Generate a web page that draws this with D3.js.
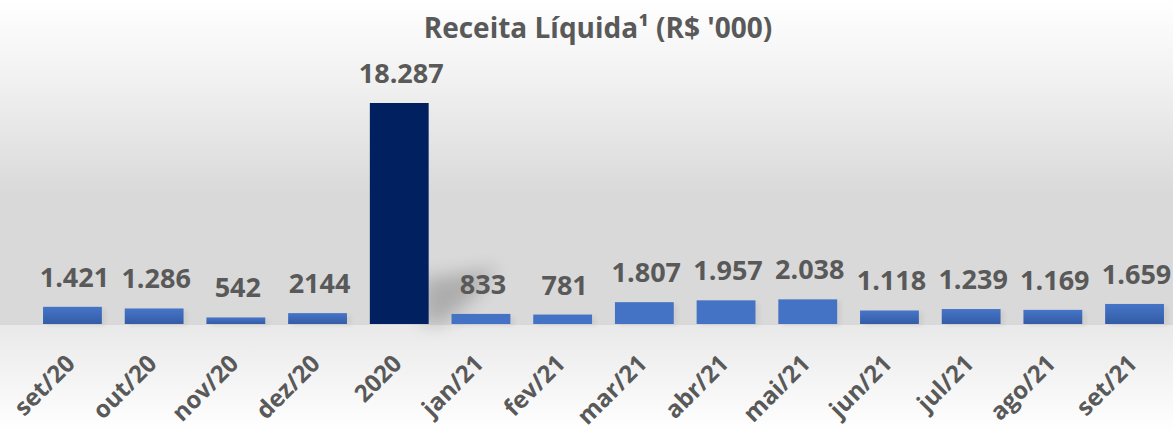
<!DOCTYPE html>
<html>
<head>
<meta charset="utf-8">
<script src="https://cdn.jsdelivr.net/npm/d3@7"></script>
<style>
  body { margin: 0; background: #fff; }
  svg { display: block; font-family: "Open Sans", sans-serif; }
</style>
</head>
<body>
<svg id="chart"></svg>
<script>
const months = ["set/20", "out/20", "nov/20", "dez/20", "2020", "jan/21", "fev/21", "mar/21", "abr/21", "mai/21", "jun/21", "jul/21", "ago/21", "set/21"];
// bar heights as drawn (the dez/20 bar is drawn much shorter than its "2144" label)
const revenue = [1421, 1286, 542, 900, 18287, 833, 781, 1807, 1957, 2038, 1118, 1239, 1169, 1659];
const valueLabels = ["1.421", "1.286", "542", "2144", "18.287", "833", "781", "1.807", "1.957", "2.038", "1.118", "1.239", "1.169", "1.659"];

// bars drawn with the shaded fill in the original
const shadedBars = ["set/20", "out/20", "nov/20", "dez/20", "jun/21", "jul/21", "ago/21", "set/21"];

const width = 1173, height = 432;
const baseline = 324;
const textColor = "#595959";

const svg = d3.select("#chart").attr("width", width).attr("height", height);
const defs = svg.append("defs");

const bgTop = defs.append("linearGradient").attr("id", "bgTop").attr("x1", 0).attr("y1", 0).attr("x2", 0).attr("y2", 1);
bgTop.append("stop").attr("offset", "0").attr("stop-color", "#ffffff");
bgTop.append("stop").attr("offset", "0.25").attr("stop-color", "#f1f1f1");
bgTop.append("stop").attr("offset", "0.6").attr("stop-color", "#d9d9d9");
bgTop.append("stop").attr("offset", "1").attr("stop-color", "#d9d9d9");

const bgBottom = defs.append("linearGradient").attr("id", "bgBottom").attr("x1", 0).attr("y1", 0).attr("x2", 0).attr("y2", 1);
bgBottom.append("stop").attr("offset", "0").attr("stop-color", "#e9e9e9");
bgBottom.append("stop").attr("offset", "1").attr("stop-color", "#ffffff");

const barGrad = defs.append("linearGradient").attr("id", "barGrad").attr("x1", 0).attr("y1", 0).attr("x2", 0).attr("y2", 1);
barGrad.append("stop").attr("offset", "0").attr("stop-color", "#4675c8");
barGrad.append("stop").attr("offset", "1").attr("stop-color", "#345ca6");

const blur = defs.append("filter").attr("id", "blur").attr("x", "-50%").attr("y", "-50%").attr("width", "200%").attr("height", "200%");
blur.append("feGaussianBlur").attr("stdDeviation", 9);

const soft = defs.append("filter").attr("id", "soft").attr("x", "-50%").attr("y", "-50%").attr("width", "200%").attr("height", "200%");
soft.append("feGaussianBlur").attr("stdDeviation", 2);

svg.append("rect").attr("width", width).attr("height", baseline + 1).attr("fill", "url(#bgTop)");
svg.append("rect").attr("y", baseline + 1).attr("width", width).attr("height", height - baseline - 1).attr("fill", "url(#bgBottom)");

const x = d3.scaleBand().domain(months).range([31.6, 1175.4]).paddingInner(0.28).paddingOuter(0.14);
const y = d3.scaleLinear().domain([0, d3.max(revenue)]).range([baseline, 103]);

const data = months.map((m, i) => ({ month: m, value: revenue[i], label: valueLabels[i] }));

// faint shadows
const shadows = svg.append("g");
shadows.selectAll("rect")
  .data(data.filter(d => d.month !== "2020"))
  .join("rect")
  .attr("x", d => x(d.month) + 4)
  .attr("y", d => y(d.value) + 2)
  .attr("width", x.bandwidth())
  .attr("height", d => baseline - y(d.value))
  .attr("fill", "#000")
  .attr("opacity", 0.05)
  .attr("filter", "url(#soft)");

// cast shadow of the 2020 bar
const big = data.find(d => d.month === "2020");
const xr = x(big.month) + x.bandwidth();
shadows.append("path")
  .attr("d", d3.line()([[xr - 6, baseline], [xr - 6, baseline - 45], [xr + 70, baseline - 56], [xr + 40, baseline - 22], [xr + 12, baseline]]))
  .attr("fill", "#000")
  .attr("opacity", 0.2)
  .attr("filter", "url(#blur)");

svg.append("g")
  .selectAll("rect")
  .data(data)
  .join("rect")
  .attr("x", d => x(d.month))
  .attr("y", d => y(d.value))
  .attr("width", x.bandwidth())
  .attr("height", d => baseline - y(d.value))
  .attr("fill", d => d.month === "2020" ? "#002060" : shadedBars.includes(d.month) ? "url(#barGrad)" : "#4472c4");

svg.append("g")
  .selectAll("text")
  .data(data)
  .join("text")
  .attr("x", d => x(d.month) + x.bandwidth() / 2 + 2)
  .attr("y", d => y(d.value) - 20)
  .attr("text-anchor", "middle")
  .attr("font-size", 27)
  .attr("font-weight", 700)
  .attr("fill", textColor)
  .text(d => d.label);

const xAxis = svg.append("g")
  .attr("transform", `translate(0,${baseline})`)
  .call(d3.axisBottom(x).tickSize(0).tickPadding(0));
xAxis.select(".domain").remove();
xAxis.selectAll("text")
  .attr("font-family", "Open Sans, sans-serif")
  .attr("font-size", 24)
  .attr("font-weight", 700)
  .attr("fill", textColor)
  .attr("text-anchor", "end")
  .attr("dy", 0)
  .attr("transform", "translate(4,41) rotate(-45)");

svg.append("text")
  .attr("x", 598)
  .attr("y", 38)
  .attr("text-anchor", "middle")
  .attr("font-size", 28)
  .attr("font-weight", 700)
  .attr("fill", textColor)
  .text("Receita Líquida¹ (R$ '000)");
</script>
</body>
</html>
